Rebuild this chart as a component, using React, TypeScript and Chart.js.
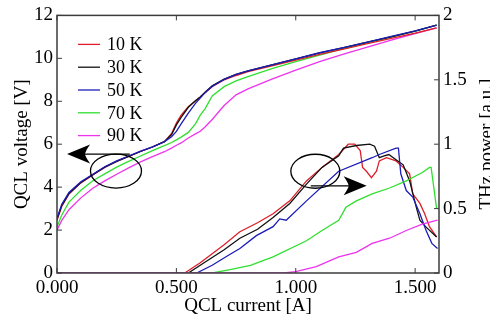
import React, { useEffect, useRef } from 'react';
import { Chart, registerables } from 'chart.js';

Chart.register(...registerables);

const SERIES_LABELS = ['10 K', '30 K', '50 K', '70 K', '90 K'];
const SERIES_COLORS = ['#dc1f2a', '#111111', '#1c1cb8', '#2fe02f', '#ee33ee'];

const X_TICKS = [0, 0.5, 1.0, 1.5];
const Y_TICKS = [0, 2, 4, 6, 8, 10, 12];
const Y2_TICKS = [0, 0.5, 1, 1.5, 2];

// QCL current grid for voltage curves [A]
const CURRENT_V = [0, 0.02, 0.05, 0.1, 0.15, 0.2, 0.25, 0.3, 0.35, 0.4, 0.45, 0.48, 0.5, 0.52, 0.55, 0.58, 0.6, 0.62, 0.65, 0.7, 0.75, 0.8, 0.9, 1.0, 1.1, 1.2, 1.3, 1.4, 1.5, 1.59];
// QCL voltage [V]
const V_10K = [2.45, 3.1, 3.68, 4.2, 4.57, 4.92, 5.2, 5.43, 5.66, 5.87, 6.12, 6.5, 6.98, 7.35, 7.75, 8.02, 8.2, 8.4, 8.68, 9.0, 9.2, 9.38, 9.65, 9.92, 10.18, 10.43, 10.68, 10.93, 11.17, 11.42];
const V_30K = [2.5, 3.15, 3.7, 4.22, 4.58, 4.93, 5.2, 5.43, 5.66, 5.87, 6.12, 6.45, 6.9, 7.25, 7.72, 8.02, 8.2, 8.42, 8.72, 9.03, 9.25, 9.42, 9.7, 9.97, 10.25, 10.5, 10.75, 11.0, 11.27, 11.55];
const V_50K = [2.55, 3.2, 3.75, 4.25, 4.6, 4.95, 5.22, 5.45, 5.68, 5.88, 6.12, 6.35, 6.6, 6.95, 7.45, 7.9, 8.15, 8.4, 8.7, 9.02, 9.25, 9.42, 9.7, 9.98, 10.26, 10.5, 10.76, 11.02, 11.28, 11.55];
const V_70K = [2.15, 2.7, 3.3, 3.85, 4.3, 4.62, 4.93, 5.2, 5.45, 5.7, 5.93, 6.08, 6.2, 6.33, 6.55, 6.95, 7.35, 7.65, 8.25, 8.68, 8.95, 9.15, 9.52, 9.85, 10.15, 10.45, 10.73, 11.0, 11.27, 11.55];
const V_90K = [2.0, 2.45, 2.95, 3.5, 3.95, 4.29, 4.6, 4.9, 5.18, 5.42, 5.65, 5.82, 5.95, 6.06, 6.29, 6.48, 6.6, 6.8, 7.15, 7.8, 8.3, 8.58, 9.03, 9.45, 9.85, 10.2, 10.52, 10.85, 11.15, 11.42];

// THz power [a.u.]
const I_P10 = [0, 0.535, 0.6, 0.7, 0.766, 0.84, 0.905, 0.975, 1.045, 1.11, 1.18, 1.22, 1.247, 1.27, 1.28, 1.296, 1.317, 1.338, 1.35, 1.38, 1.42, 1.45, 1.477, 1.49, 1.52, 1.54, 1.56, 1.59];
const P_10K = [0, 0, 0.08, 0.22, 0.32, 0.39, 0.46, 0.56, 0.715, 0.82, 0.92, 1.0, 1.0, 0.95, 0.82, 0.79, 0.74, 0.79, 0.87, 0.895, 0.87, 0.82, 0.77, 0.615, 0.54, 0.46, 0.36, 0.28];
const I_P30 = [0, 0.55, 0.6, 0.7, 0.766, 0.84, 0.905, 0.975, 1.045, 1.11, 1.18, 1.2, 1.254, 1.31, 1.33, 1.35, 1.37, 1.39, 1.42, 1.45, 1.477, 1.505, 1.52, 1.546, 1.59];
const P_30K = [0, 0, 0.06, 0.18, 0.27, 0.34, 0.43, 0.54, 0.69, 0.82, 0.91, 0.97, 0.99, 1.0, 0.985, 0.895, 0.91, 0.92, 0.88, 0.84, 0.715, 0.51, 0.41, 0.356, 0.28];
const I_P50 = [0, 0.585, 0.65, 0.72, 0.766, 0.835, 0.905, 0.933, 0.96, 1.045, 1.18, 1.32, 1.35, 1.42, 1.43, 1.44, 1.463, 1.49, 1.52, 1.546, 1.57, 1.594];
const P_50K = [0, 0, 0.06, 0.14, 0.19, 0.29, 0.36, 0.42, 0.41, 0.56, 0.79, 0.895, 0.92, 0.97, 0.97, 0.77, 0.64, 0.59, 0.46, 0.33, 0.23, 0.19];
const I_P70 = [0, 0.65, 0.72, 0.81, 0.905, 1.045, 1.11, 1.18, 1.21, 1.254, 1.32, 1.393, 1.463, 1.53, 1.56, 1.567, 1.59];
const P_70K = [0, 0, 0.025, 0.06, 0.125, 0.25, 0.33, 0.41, 0.51, 0.56, 0.615, 0.66, 0.715, 0.78, 0.82, 0.82, 0.5];
const I_P90 = [0, 0.95, 1.0, 1.086, 1.18, 1.254, 1.32, 1.393, 1.463, 1.53, 1.594];
const P_90K = [0, 0, 0.01, 0.05, 0.125, 0.16, 0.23, 0.27, 0.33, 0.38, 0.41];

const FAMILY = "'Liberation Serif', 'Times New Roman', serif";
const FONT = { family: FAMILY, size: 19, lineHeight: 1.2 };
const TITLE_CSS = `19px ${FAMILY}`;
const LEGEND_CSS = `18px ${FAMILY}`;
const FRAME_COLOR = '#3c3c3c';

const pts = (xs: number[], ys: number[]) => xs.map((x, i) => ({ x, y: ys[i] }));

const line = (label: string, color: string, data: any[], yAxisID: string) => ({
  label,
  data,
  yAxisID,
  borderColor: color,
  backgroundColor: color,
  borderWidth: 1.3,
  pointRadius: 0,
  showLine: true,
  fill: false,
  tension: 0,
});

const decorPlugin = {
  id: 'decor',
  afterDraw(chart: any) {
    const { ctx, chartArea: ca, scales } = chart;
    const x = scales.x, y = scales.y, y2 = scales.y2;
    ctx.save();
    // frame
    ctx.strokeStyle = FRAME_COLOR;
    ctx.lineWidth = 1.5;
    ctx.strokeRect(ca.left, ca.top, ca.right - ca.left, ca.bottom - ca.top);
    // inward ticks
    const tl = 5;
    ctx.lineWidth = 1;
    ctx.beginPath();
    X_TICKS.forEach((v) => {
      const px = x.getPixelForValue(v);
      ctx.moveTo(px, ca.bottom); ctx.lineTo(px, ca.bottom - tl);
      ctx.moveTo(px, ca.top); ctx.lineTo(px, ca.top + tl);
    });
    Y_TICKS.forEach((v) => {
      const py = y.getPixelForValue(v);
      ctx.moveTo(ca.left, py); ctx.lineTo(ca.left + tl, py);
    });
    Y2_TICKS.forEach((v) => {
      const py = y2.getPixelForValue(v);
      ctx.moveTo(ca.right, py); ctx.lineTo(ca.right - tl, py);
    });
    ctx.stroke();

    // legend
    ctx.font = LEGEND_CSS;
    ctx.textBaseline = 'middle';
    ctx.textAlign = 'left';
    SERIES_LABELS.forEach((lab, i) => {
      const ly = ca.top + 29 + i * 22.8;
      ctx.strokeStyle = SERIES_COLORS[i];
      ctx.lineWidth = 1.3;
      ctx.beginPath();
      ctx.moveTo(ca.left + 21, ly);
      ctx.lineTo(ca.left + 43, ly);
      ctx.stroke();
      ctx.fillStyle = '#000';
      ctx.fillText(lab, ca.left + 50, ly + 1);
    });

    // right axis title (reads bottom to top)
    ctx.save();
    ctx.font = TITLE_CSS;
    ctx.translate(492, (ca.top + ca.bottom) / 2);
    ctx.rotate(-Math.PI / 2);
    ctx.textAlign = 'center';
    ctx.textBaseline = 'alphabetic';
    ctx.fillStyle = '#000';
    ctx.fillText('THz power [a.u.]', 0, 0);
    ctx.restore();

    // annotations: ellipses + arrows
    const arrowHead = (tx: number, ty: number, dir: number) => {
      const L = 23, H = 9.5;
      ctx.beginPath();
      ctx.moveTo(tx, ty);
      ctx.lineTo(tx + dir * L, ty - H);
      ctx.quadraticCurveTo(tx + dir * L * 0.8, ty - H * 0.3, tx + dir * L * 0.78, ty);
      ctx.quadraticCurveTo(tx + dir * L * 0.8, ty + H * 0.3, tx + dir * L, ty + H);
      ctx.closePath();
      ctx.fillStyle = '#000';
      ctx.fill();
    };
    ctx.strokeStyle = '#000';
    ctx.lineWidth = 1.3;
    // ellipse 1 (voltage)
    const e1x = x.getPixelForValue(0.247), e1y = y.getPixelForValue(4.75);
    ctx.beginPath();
    ctx.ellipse(e1x, e1y, 25.5, 17, 0, 0, Math.PI * 2);
    ctx.stroke();
    const a1s = x.getPixelForValue(0.305), a1t = x.getPixelForValue(0.042), a1y = y.getPixelForValue(5.54);
    ctx.beginPath();
    ctx.moveTo(a1s, a1y);
    ctx.lineTo(a1t + 12, a1y);
    ctx.stroke();
    arrowHead(a1t, a1y, 1);
    // ellipse 2 (power)
    const e2x = x.getPixelForValue(1.082), e2y = y2.getPixelForValue(0.79);
    ctx.beginPath();
    ctx.ellipse(e2x, e2y, 24.5, 17, 0, 0, Math.PI * 2);
    ctx.stroke();
    const a2s = x.getPixelForValue(1.063), a2t = x.getPixelForValue(1.297), a2y = y2.getPixelForValue(0.677);
    ctx.beginPath();
    ctx.moveTo(a2s, a2y);
    ctx.lineTo(a2t - 12, a2y);
    ctx.stroke();
    arrowHead(a2t, a2y, -1);
    ctx.restore();
  },
};

export default function App() {
  const ref = useRef<HTMLCanvasElement | null>(null);
  useEffect(() => {
    if (!ref.current) return;
    const chart = new Chart(ref.current, {
      type: 'scatter',
      data: {
        datasets: [
          line('P 90 K', SERIES_COLORS[4], pts(I_P90, P_90K), 'y2'),
          line('P 70 K', SERIES_COLORS[3], pts(I_P70, P_70K), 'y2'),
          line('P 50 K', SERIES_COLORS[2], pts(I_P50, P_50K), 'y2'),
          line('P 30 K', SERIES_COLORS[1], pts(I_P30, P_30K), 'y2'),
          line('P 10 K', SERIES_COLORS[0], pts(I_P10, P_10K), 'y2'),
          line('V 50 K', SERIES_COLORS[2], pts(CURRENT_V, V_50K), 'y'),
          line('V 30 K', SERIES_COLORS[1], pts(CURRENT_V, V_30K), 'y'),
          line('V 10 K', SERIES_COLORS[0], pts(CURRENT_V, V_10K), 'y'),
          line('V 70 K', SERIES_COLORS[3], pts(CURRENT_V, V_70K), 'y'),
          line('V 90 K', SERIES_COLORS[4], pts(CURRENT_V, V_90K), 'y'),
        ],
      },
      options: {
        animation: false,
        responsive: false,
        maintainAspectRatio: false,
        layout: { padding: { top: 13, left: 0, right: 0, bottom: 0 } },
        plugins: { legend: { display: false }, tooltip: { enabled: false } },
        scales: {
          x: {
            type: 'linear',
            position: 'bottom',
            min: 0,
            max: 1.6,
            grid: { display: false, drawTicks: false, tickLength: 0 },
            border: { display: false },
            ticks: { padding: 4, font: FONT, color: '#000', maxRotation: 0, autoSkip: false, callback: (v: any) => Number(v).toFixed(3) },
            afterBuildTicks: (s: any) => { s.ticks = X_TICKS.map((v) => ({ value: v })); },
            afterFit: (s: any) => { s.height = 48; },
            title: { display: true, text: 'QCL current [A]', font: FONT, color: '#000', padding: { top: 0, bottom: 4 } },
          },
          y: {
            type: 'linear',
            position: 'left',
            min: 0,
            max: 12,
            grid: { display: false, drawTicks: false, tickLength: 0 },
            border: { display: false },
            ticks: { padding: 4, font: FONT, color: '#000', autoSkip: false },
            afterBuildTicks: (s: any) => { s.ticks = Y_TICKS.map((v) => ({ value: v })); },
            afterFit: (s: any) => { s.width = 57; },
            title: { display: true, text: 'QCL voltage [V]', font: FONT, color: '#000', padding: { top: 11, bottom: 0 } },
          },
          y2: {
            type: 'linear',
            position: 'right',
            min: 0,
            max: 2,
            grid: { display: false, drawTicks: false, tickLength: 0 },
            border: { display: false },
            ticks: { padding: 4, font: FONT, color: '#000', autoSkip: false, callback: (v: any) => String(v) },
            afterBuildTicks: (s: any) => { s.ticks = Y2_TICKS.map((v) => ({ value: v })); },
            afterFit: (s: any) => { s.width = 51; },
          },
        },
      },
      plugins: [decorPlugin],
    } as any);
    return () => chart.destroy();
  }, []);
  return (
    <div style={{ position: 'absolute', left: 0, top: 0, width: 490, height: 321, background: '#fff' }}>
      <canvas ref={ref} width={490} height={321} style={{ display: 'block', width: 490, height: 321 }} />
    </div>
  );
}
